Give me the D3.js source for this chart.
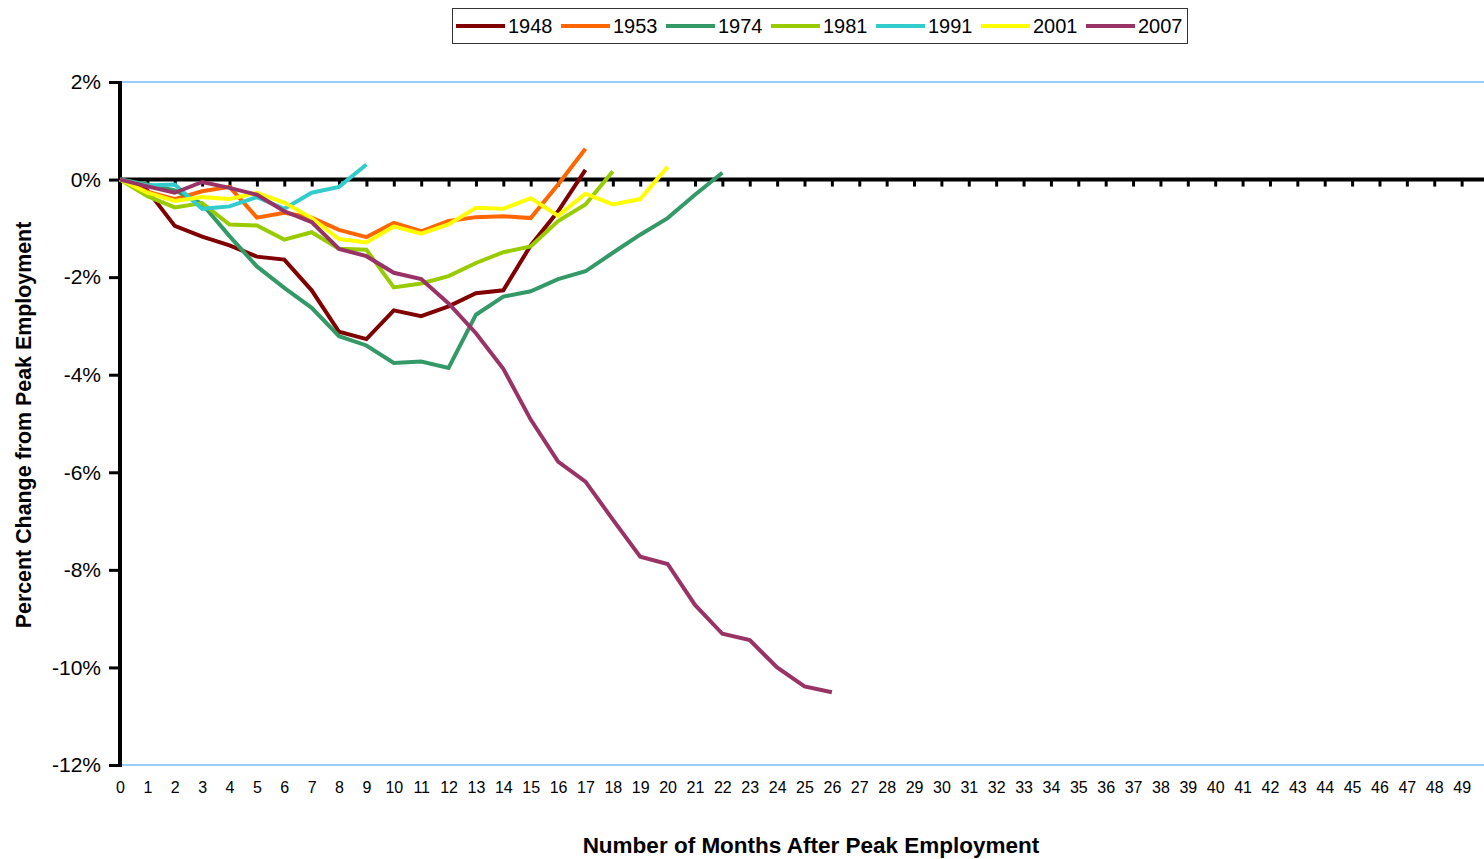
<!DOCTYPE html>
<html>
<head>
<meta charset="utf-8">
<script src="https://cdn.jsdelivr.net/npm/d3@7"></script>
<style>
  body { margin: 0; background: #fff; }
  svg { display: block; font-family: "Liberation Sans", Arial, sans-serif; }
</style>
</head>
<body>
<svg id="chart" width="1484" height="859"></svg>
<script>
// Months after peak employment
const months = d3.range(0, 50);

const years = ["1948", "1953", "1974", "1981", "1991", "2001", "2007"];
const colors = ["#800000", "#FF6600", "#339966", "#99CC00", "#33CCCC", "#FFFF00", "#993366"];

// Percent change from peak, one value per month
const s1948 = [0, -0.22, -0.95, -1.17, -1.35, -1.58, -1.64, -2.27, -3.12, -3.27, -2.68, -2.80, -2.60, -2.33, -2.27, -1.35, -0.65, 0.20];
const s1953 = [0, -0.25, -0.40, -0.24, -0.15, -0.78, -0.68, -0.78, -1.03, -1.18, -0.89, -1.06, -0.85, -0.77, -0.75, -0.79, -0.10, 0.63];
const s1974 = [0, -0.10, -0.22, -0.50, -1.16, -1.78, -2.22, -2.63, -3.21, -3.40, -3.76, -3.73, -3.86, -2.77, -2.40, -2.29, -2.04, -1.88, -1.50, -1.13, -0.79, -0.31, 0.14];
const s1981 = [0, -0.34, -0.57, -0.48, -0.92, -0.94, -1.23, -1.08, -1.42, -1.44, -2.21, -2.13, -1.98, -1.71, -1.49, -1.37, -0.85, -0.51, 0.17];
const s1991 = [0, -0.12, -0.10, -0.60, -0.55, -0.36, -0.60, -0.27, -0.15, 0.31];
const s2001 = [0, -0.27, -0.44, -0.36, -0.40, -0.27, -0.47, -0.79, -1.22, -1.29, -0.96, -1.11, -0.92, -0.58, -0.60, -0.38, -0.74, -0.29, -0.51, -0.40, 0.26];
const s2007 = [0, -0.14, -0.27, -0.05, -0.17, -0.31, -0.65, -0.87, -1.42, -1.57, -1.91, -2.04, -2.54, -3.15, -3.88, -4.92, -5.78, -6.19, -6.97, -7.73, -7.88, -8.72, -9.31, -9.44, -10.0, -10.39, -10.51];

const seriesValues = [s1948, s1953, s1974, s1981, s1991, s2001, s2007];
const yTicks = [2, 0, -2, -4, -6, -8, -10, -12];

const svg = d3.select("#chart");

const x = d3.scaleLinear()
    .domain([0, 50])
    .range([120, 1489]);

const y = d3.scaleLinear()
    .domain([-12, 2])
    .range([765, 82]);

// light blue border lines at top and bottom of plot area
svg.selectAll(".border")
    .data([2, -12])
    .enter().append("line")
    .attr("x1", x(0))
    .attr("x2", 1484)
    .attr("y1", d => y(d))
    .attr("y2", d => y(d))
    .attr("stroke", "#99CCFF")
    .attr("stroke-width", 2);

// y axis
const yAxis = svg.append("g")
    .attr("transform", `translate(${x(0)},0)`)
    .call(d3.axisLeft(y).tickValues(yTicks).tickSize(11).tickPadding(8).tickFormat(d => d + "%"));
yAxis.select(".domain").remove();
yAxis.selectAll(".tick line").attr("stroke", "#000").attr("stroke-width", 3);
yAxis.selectAll(".tick text")
    .attr("font-size", 21)
    .attr("font-family", "Liberation Sans, Arial, sans-serif")
    .attr("fill", "#000");
yAxis.append("line")
    .attr("x1", 0).attr("x2", 0)
    .attr("y1", y(2) - 1).attr("y2", y(-12) + 2)
    .attr("stroke", "#000")
    .attr("stroke-width", 4);

// x tick labels at the bottom
const xAxis = svg.append("g")
    .attr("transform", `translate(0,${y(-12)})`)
    .call(d3.axisBottom(x).tickValues(months).tickSize(0).tickPadding(17).tickFormat(d3.format("d")));
xAxis.select(".domain").remove();
xAxis.selectAll(".tick text")
    .attr("font-size", 16)
    .attr("font-family", "Liberation Sans, Arial, sans-serif")
    .attr("fill", "#000");

// zero line with tick marks
const zeroAxis = svg.append("g")
    .attr("transform", `translate(0,${y(0)})`)
    .call(d3.axisBottom(x).tickValues(months.slice(1)).tickSize(7).tickFormat(""));
zeroAxis.select(".domain").remove();
zeroAxis.selectAll(".tick line").attr("stroke", "#000").attr("stroke-width", 3);
zeroAxis.append("line")
    .attr("x1", x(0)).attr("x2", 1484)
    .attr("y1", 0).attr("y2", 0)
    .attr("stroke", "#000")
    .attr("stroke-width", 4);

// series lines
const line = d3.line()
    .x((d, i) => x(i))
    .y(d => y(d));

svg.selectAll(".series")
    .data(seriesValues)
    .enter().append("path")
    .attr("class", "series")
    .attr("fill", "none")
    .attr("stroke", (d, i) => colors[i])
    .attr("stroke-width", 4)
    .attr("stroke-linejoin", "miter")
    .attr("d", line);

// axis titles
svg.append("text")
    .attr("x", 811)
    .attr("y", 853)
    .attr("text-anchor", "middle")
    .attr("font-size", 22.5)
    .attr("font-weight", "bold")
    .text("Number of Months After Peak Employment");

svg.append("text")
    .attr("transform", "translate(31,425) rotate(-90)")
    .attr("text-anchor", "middle")
    .attr("font-size", 21.4)
    .attr("font-weight", "bold")
    .text("Percent Change from Peak Employment");

// legend
const legend = svg.append("g");
legend.append("rect")
    .attr("x", 452.5).attr("y", 8.5)
    .attr("width", 735).attr("height", 35)
    .attr("fill", "#fff")
    .attr("stroke", "#333")
    .attr("stroke-width", 1);

const items = legend.selectAll(".item")
    .data(years)
    .enter().append("g")
    .attr("class", "item")
    .attr("transform", (d, i) => `translate(${456 + i * 105},26)`);

items.append("line")
    .attr("x1", 0).attr("x2", 49)
    .attr("y1", 0).attr("y2", 0)
    .attr("stroke", (d, i) => colors[i])
    .attr("stroke-width", 4);

items.append("text")
    .attr("x", 52)
    .attr("y", 7)
    .attr("font-size", 20)
    .text(d => d);
</script>
</body>
</html>
